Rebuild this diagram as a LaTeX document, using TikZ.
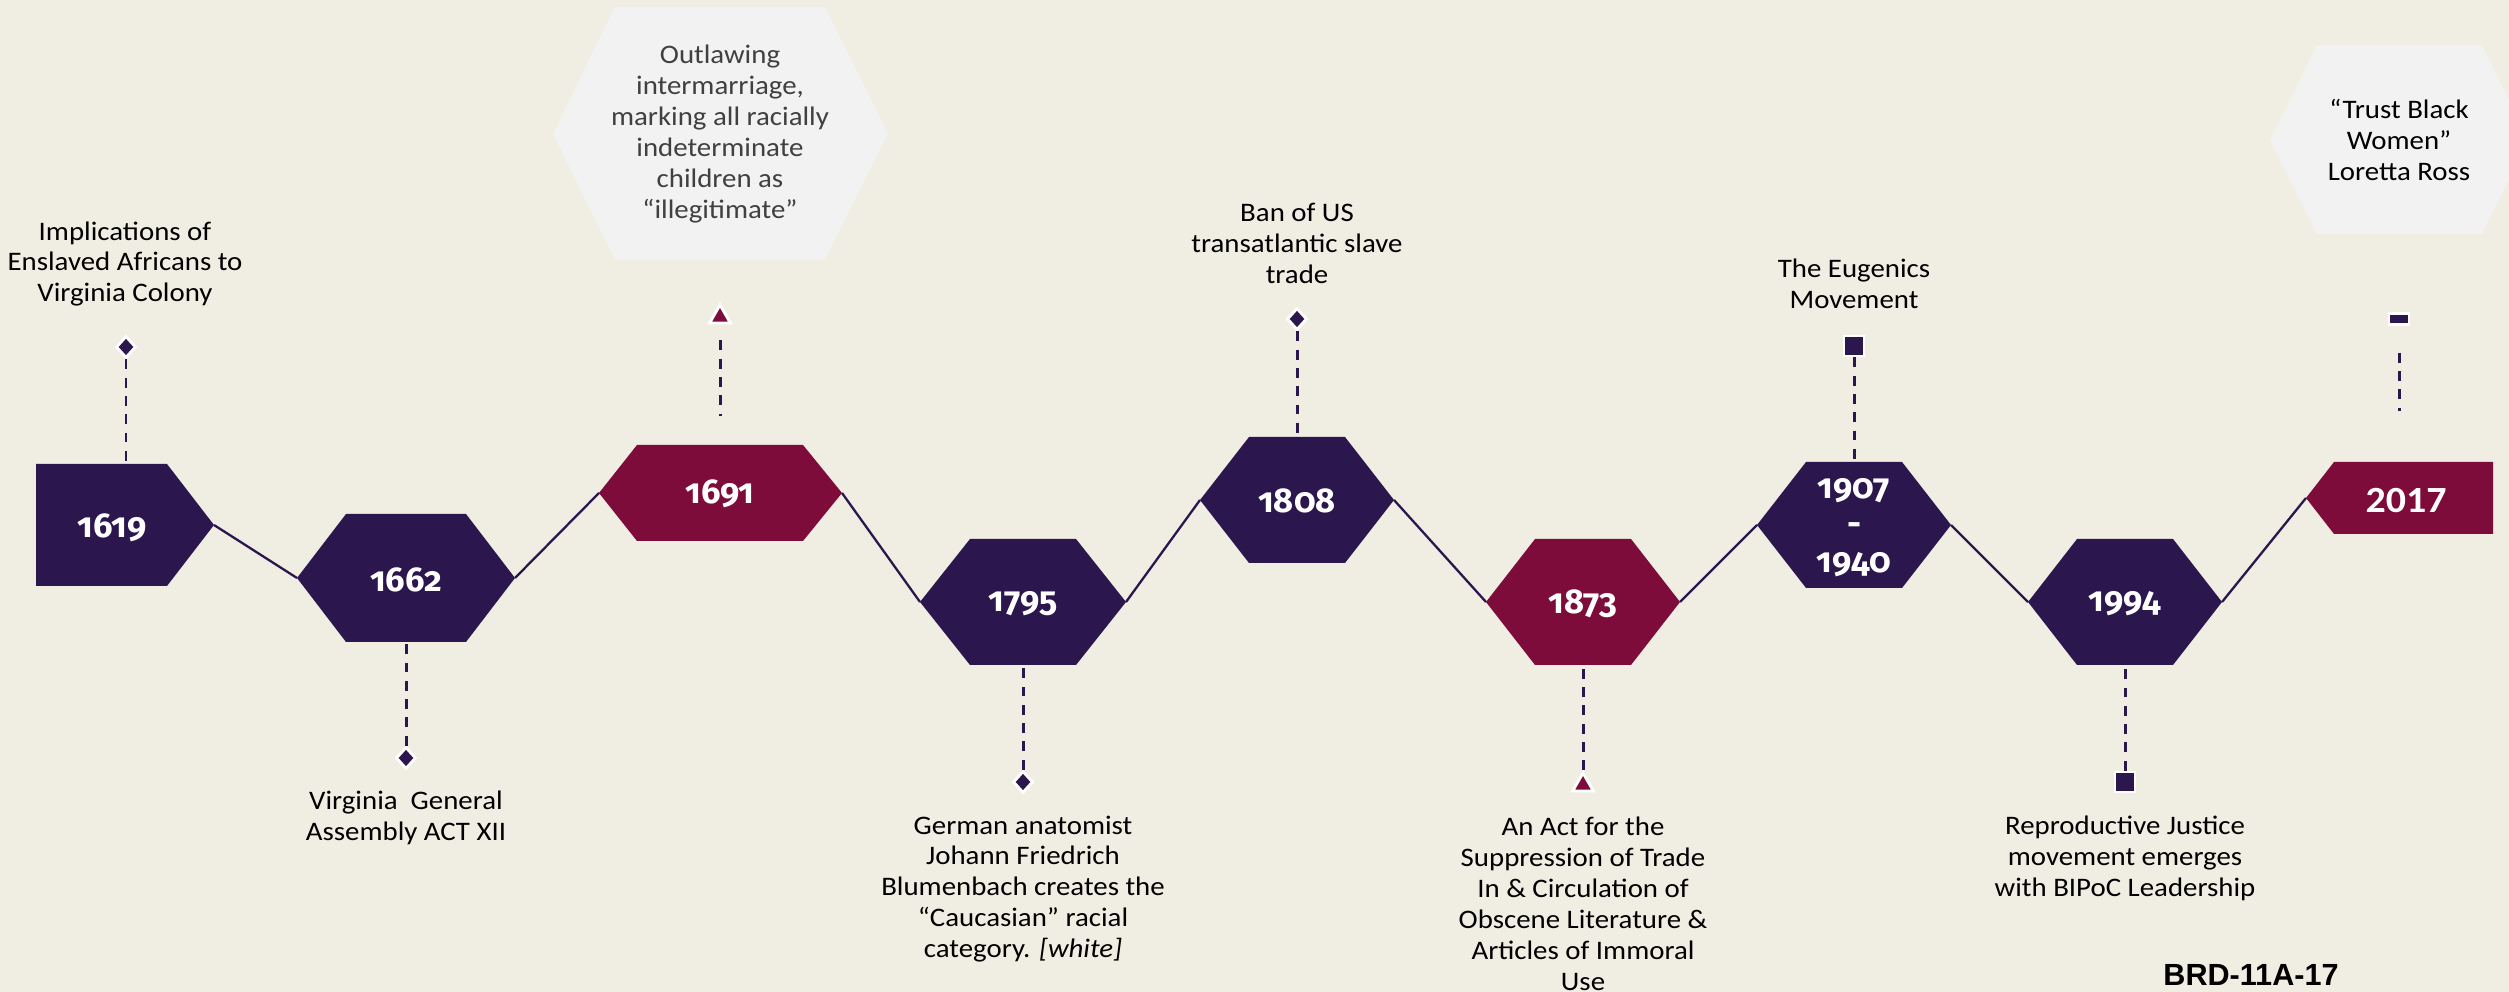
\documentclass[tikz,border=0pt]{standalone}
\usepackage{fontspec}
\setmainfont{Carlito}[FakeStretch=1.08]
\newfontfamily\oldnums[Numbers=OldStyle]{Fira Sans}
\newfontfamily\codefont{Liberation Sans}
\usetikzlibrary{shapes.geometric}

\definecolor{cream}{HTML}{F0EDE3}
\definecolor{plum}{HTML}{2B164E}
\definecolor{wine}{HTML}{7D0C3B}
\definecolor{paleGray}{HTML}{F2F2F2}
\definecolor{noteText}{HTML}{404040}

\begin{document}
\begin{tikzpicture}[x=0.01cm, y=-0.01cm]
\tikzstyle{event} = [align=center, inner sep=0, font=\fontsize{7.6}{8.8}\selectfont]
\tikzstyle{yr} = [align=center, inner sep=0, text=white, font=\oldnums\bfseries\fontsize{9.8}{10.5}\selectfont]
\tikzstyle{link} = [draw=plum, line width=0.65pt]
\tikzstyle{stem} = [draw=plum, line width=0.85pt, dash pattern=on 2.8pt off 2.4pt]
\tikzstyle{diam} = [diamond, fill=plum, draw=white, line width=0.8pt, minimum width=0.2cm, minimum height=0.22cm, inner sep=0]
\tikzstyle{tri} = [regular polygon, regular polygon sides=3, fill=wine, draw=white, line width=0.8pt, minimum size=0.24cm, inner sep=0]
\tikzstyle{sq} = [rectangle, fill=plum, draw=white, line width=0.8pt, minimum width=0.2cm, minimum height=0.2cm, inner sep=0]

% Sfondo
\fill[cream] (0,0) rectangle (2509,992);
\useasboundingbox (0,0) rectangle (2509,992);

% Riquadri grigi
\fill[paleGray] (553,134) -- (615,7) -- (825,7) -- (888,134) -- (825,260) -- (615,260) -- cycle;
\fill[paleGray] (2270,140) -- (2317,45) -- (2482,45) -- (2529,140) -- (2482,234) -- (2317,234) -- cycle;

% Esagoni degli anni
\foreach \n/\xa/\xb/\xc/\xd/\cy/\hh/\col in {
  1619/36/36/167/214/525/61/plum,
  1662/297/346/466/515/578/64/plum,
  1691/599/637/803/842/493/48/wine,
  1795/920/970/1076/1126/602/63/plum,
  1808/1200/1249/1345/1394/500/63/plum,
  1873/1486/1535/1631/1680/602/63/wine,
  1907/1757/1806/1902/1951/525/63/plum,
  1994/2028/2077/2173/2222/602/63/plum,
  2017/2306/2334/2493/2493/498/36/wine} {
  \fill[\col] (\xa,\cy) -- (\xb,\cy-\hh) -- (\xc,\cy-\hh) -- (\xd,\cy) -- (\xc,\cy+\hh) -- (\xb,\cy+\hh) -- cycle;
  \coordinate (l\n) at (\xa,\cy);
  \coordinate (r\n) at (\xd,\cy);
  \coordinate (t\n) at (\xb,\cy-\hh);
  \coordinate (b\n) at (\xb,\cy+\hh);
}

% Anni
\foreach \n/\x/\y in {1619/112/528, 1662/406/580, 1691/720/494, 1795/1023/604, 1808/1297/501, 1873/1583/604, 1994/2125/604}
  \node[yr] (y\n) at (\x,\y) {\n};
\node[yr] (y1907) at (1854,528) {1907\\-\\1940};
\node[yr, font=\bfseries\fontsize{10.5}{10.5}\selectfont] (y2017) at (2406,501) {2017};

% Linea del tempo
\foreach \a/\b in {1619/1662, 1662/1691, 1691/1795, 1795/1808, 1808/1873, 1873/1907, 1907/1994, 1994/2017}
  \draw[link] (r\a) -- (l\b);

% Segnaposti
\node[diam] (m1619) at (126,347) {};
\node[diam] (m1662) at (406,758) {};
\node[tri] (m1691) at (720,317) {};
\node[diam] (m1795) at (1023,782) {};
\node[diam] (m1808) at (1297,319) {};
\node[tri] (m1873) at (1583,785) {};
\node[sq] (m1907) at (1854,346) {};
\node[sq] (m1994) at (2125,782) {};
\node[sq, minimum height=0.11cm] (m2017) at (2399,319) {};

\foreach \n/\e in {1619/t, 1662/b, 1795/b, 1808/t, 1873/b, 1907/t, 1994/b}
  \draw[stem] (m\n) -- (m\n |- \e\n);
\draw[stem, shorten <=0.16cm, shorten >=0.29cm] (m1691) -- (m1691 |- t1691);
\draw[stem, shorten <=0.27cm, shorten >=0.51cm] (m2017) -- (m2017 |- t2017);

% Testi
\node[event] (e1619) at (125,264) {Implications of\\Enslaved Africans to\\Virginia Colony};
\node[event] (e1662) at (406,818) {Virginia~\ General\\Assembly ACT XII};
\node[event, text=noteText] (c1691) at (720,134) {Outlawing\\intermarriage,\\marking all racially\\indeterminate\\children as\\“illegitimate”};
\node[event] (e1795) at (1023,889) {German anatomist\\Johann Friedrich\\Blumenbach creates the\\“Caucasian” racial\\category. \textit{[white]}};
\node[event] (e1808) at (1297,243) {Ban of US\\transatlantic slave\\trade};
\node[event] (e1873) at (1583,904) {An Act for the\\Suppression of Trade\\In \& Circulation of\\Obscene Literature \&\\Articles of Immoral\\Use};
\node[event] (e1907) at (1854,284) {The Eugenics\\Movement};
\node[event] (e1994) at (2125,858) {Reproductive Justice\\movement emerges\\with BIPoC Leadership};
\node[event] (c2017) at (2399,140) {“Trust Black\\Women”\\Loretta Ross};

\node[inner sep=0, font=\codefont\bfseries\fontsize{8.7}{10}\selectfont] (code) at (2251,975) {BRD-11A-17};

\end{tikzpicture}
\end{document}
